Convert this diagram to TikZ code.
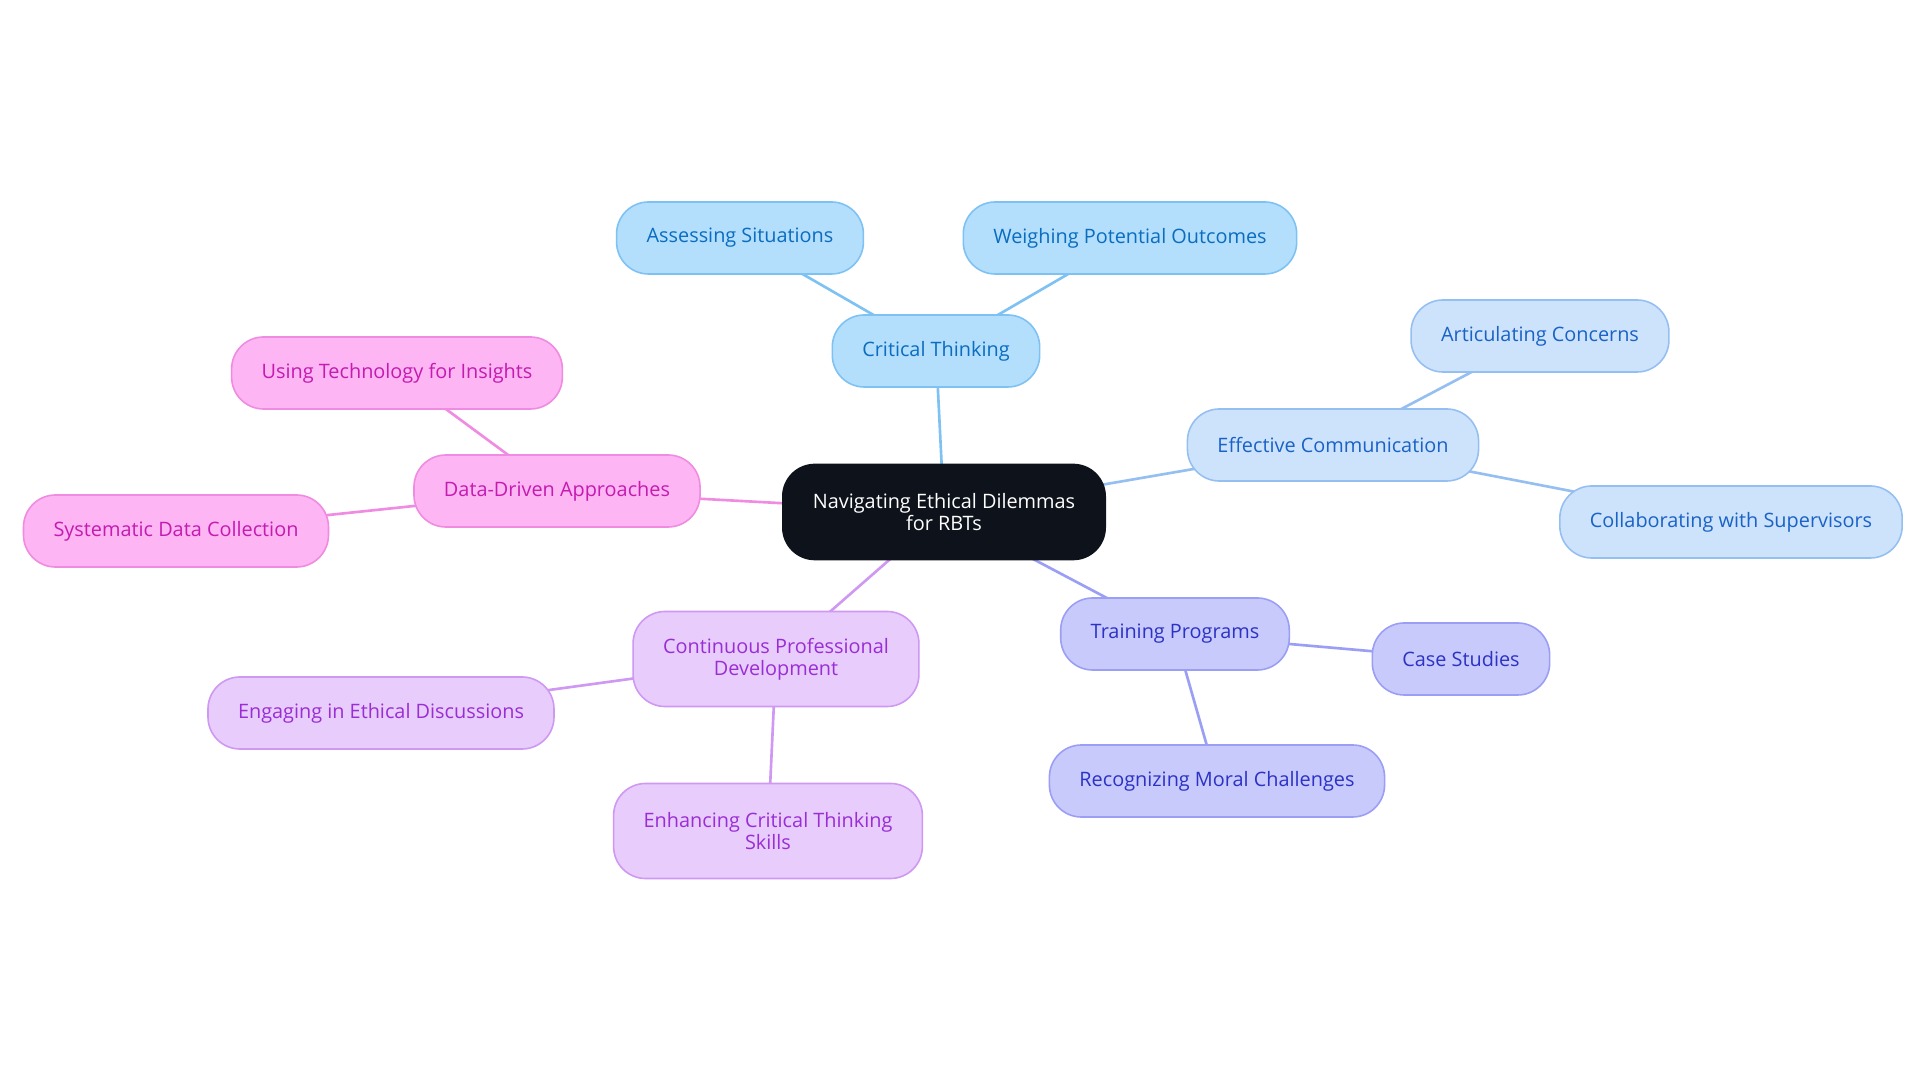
\documentclass[tikz,border=0pt]{standalone}
\usepackage{fontspec}
\setmainfont{Open Sans}
\usepackage{xcolor}
\usepackage{tikz}
\usetikzlibrary{backgrounds}
\definecolor{rootfill}{HTML}{0D121B}
\definecolor{thinkfill}{HTML}{B3DFFD}
\definecolor{thinkdraw}{HTML}{7DC2F3}
\definecolor{thinktext}{HTML}{0B6CC0}
\definecolor{talkfill}{HTML}{CDE3FB}
\definecolor{talkdraw}{HTML}{96BFF1}
\definecolor{talktext}{HTML}{1A62C6}
\definecolor{trainfill}{HTML}{C8CAFC}
\definecolor{traindraw}{HTML}{9A9EF4}
\definecolor{traintext}{HTML}{2C32C4}
\definecolor{growfill}{HTML}{E8CCFC}
\definecolor{growdraw}{HTML}{CF98F2}
\definecolor{growtext}{HTML}{9A2ED4}
\definecolor{datafill}{HTML}{FDB5F3}
\definecolor{datadraw}{HTML}{F08BE2}
\definecolor{datatext}{HTML}{C41BB0}

\begin{document}
\begin{tikzpicture}[
  x=0.01cm,y=-0.01cm,
  every node/.style={font=\fontsize{5.65}{6.3}\selectfont},
  box/.style={rounded corners=3.2mm,inner xsep=3mm,inner ysep=1mm,minimum height=7.2mm,align=center,line width=0.45pt},
  tall/.style={minimum height=9.5mm},
  rootbox/.style={box,tall,fill=rootfill,draw=rootfill,text=white},
  thinkbox/.style={box,fill=thinkfill,draw=thinkdraw,text=thinktext},
  talkbox/.style={box,fill=talkfill,draw=talkdraw,text=talktext},
  trainbox/.style={box,fill=trainfill,draw=traindraw,text=traintext},
  growbox/.style={box,fill=growfill,draw=growdraw,text=growtext},
  databox/.style={box,fill=datafill,draw=datadraw,text=datatext},
  link/.style={line width=0.75pt}
]
\node[rootbox] (root) at (944,512) {Navigating Ethical Dilemmas\\for RBTs};

\node[thinkbox] (crit) at (936,351) {Critical Thinking};
\node[thinkbox] (assess) at (740,238) {Assessing Situations};
\node[thinkbox] (weigh) at (1130,238) {Weighing Potential Outcomes};

\node[talkbox] (comm) at (1333,445) {Effective Communication};
\node[talkbox] (artic) at (1540,336) {Articulating Concerns};
\node[talkbox] (collab) at (1731,522) {Collaborating with Supervisors};

\node[trainbox] (train) at (1175,634) {Training Programs};
\node[trainbox] (cases) at (1461,659) {Case Studies};
\node[trainbox] (moral) at (1217,781) {Recognizing Moral Challenges};

\node[growbox,tall] (cpd) at (776,659) {Continuous Professional\\Development};
\node[growbox] (discuss) at (381,713) {Engaging in Ethical Discussions};
\node[growbox,tall] (skills) at (768,831) {Enhancing Critical Thinking\\Skills};

\node[databox] (datadr) at (557,491) {Data-Driven Approaches};
\node[databox] (tech) at (397,373) {Using Technology for Insights};
\node[databox] (collect) at (176,531) {Systematic Data Collection};

\begin{scope}[on background layer]
\fill[white] (0,0) rectangle (1920,1083);
\draw[link,thinkdraw] (root.center) -- (crit.center);
\draw[link,thinkdraw] (crit.center) -- (assess.center);
\draw[link,thinkdraw] (crit.center) -- (weigh.center);
\draw[link,talkdraw] (root.center) -- (comm.center);
\draw[link,talkdraw] (comm.center) -- (artic.center);
\draw[link,talkdraw] (comm.center) -- (collab.center);
\draw[link,traindraw] (root.center) -- (train.center);
\draw[link,traindraw] (train.center) -- (cases.center);
\draw[link,traindraw] (train.center) -- (moral.center);
\draw[link,growdraw] (root.center) -- (cpd.center);
\draw[link,growdraw] (cpd.center) -- (discuss.center);
\draw[link,growdraw] (cpd.center) -- (skills.center);
\draw[link,datadraw] (root.center) -- (datadr.center);
\draw[link,datadraw] (datadr.center) -- (tech.center);
\draw[link,datadraw] (datadr.center) -- (collect.center);
\end{scope}
\useasboundingbox (0,0) rectangle (1920,1083);
\end{tikzpicture}
\end{document}
